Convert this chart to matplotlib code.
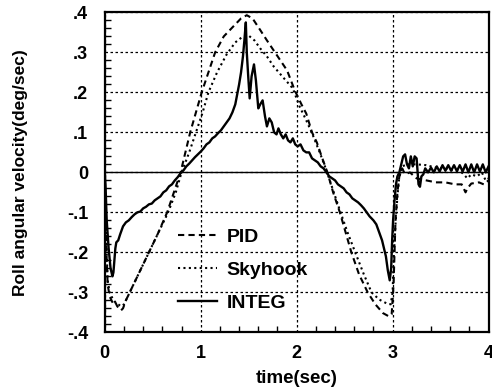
import matplotlib
matplotlib.use("Agg")
import matplotlib.pyplot as plt
from matplotlib.ticker import MultipleLocator
import numpy as np

plt.rcParams['font.family'] = ['Liberation Sans', 'DejaVu Sans']
plt.rcParams['font.weight'] = 'bold'

# ---- data ----
pid_t = [0, 0.01, 0.02, 0.03, 0.05, 0.07, 0.09, 0.11, 0.13, 0.15, 0.17, 0.19, 0.22, 0.26,
         0.36, 0.46, 0.55, 0.65, 0.72, 0.79, 0.84, 0.89, 0.95, 1.01, 1.08, 1.15, 1.24, 1.34,
         1.42, 1.48, 1.54, 1.62, 1.69, 1.76, 1.83, 1.90, 1.98, 2.05, 2.10, 2.16, 2.21, 2.26,
         2.32, 2.38, 2.45, 2.51, 2.57, 2.65, 2.74, 2.82, 2.90, 2.96, 2.99, 3.01, 3.02, 3.03,
         3.05, 3.07, 3.10, 3.13, 3.18, 3.25, 3.35, 3.45, 3.55, 3.65, 3.72, 3.76, 3.78, 3.82,
         3.90, 3.95, 4.0]
pid_v = [0, -0.12, -0.22, -0.28, -0.31, -0.32, -0.33, -0.325, -0.335, -0.34, -0.345, -0.34,
         -0.32, -0.30, -0.25, -0.20, -0.155, -0.10, -0.05, 0.0, 0.05, 0.10, 0.15, 0.20, 0.25,
         0.30, 0.34, 0.365, 0.385, 0.393, 0.385, 0.356, 0.33, 0.305, 0.28, 0.255, 0.205, 0.17,
         0.147, 0.10, 0.075, 0.04, 0.0, -0.05, -0.10, -0.15, -0.20, -0.255, -0.30, -0.33,
         -0.352, -0.36, -0.355, -0.28, -0.20, -0.12, -0.05, -0.01, 0.01, -0.005, 0.0, -0.015,
         -0.02, -0.025, -0.025, -0.03, -0.03, -0.05, -0.04, -0.028, -0.025, -0.03, -0.02]

sky_t = [0, 0.01, 0.02, 0.03, 0.05, 0.08, 0.11, 0.14, 0.17, 0.20, 0.26, 0.36, 0.46, 0.56,
         0.66, 0.74, 0.80, 0.88, 0.95, 1.02, 1.08, 1.17, 1.27, 1.36, 1.44, 1.50, 1.56, 1.62,
         1.69, 1.76, 1.85, 1.96, 2.03, 2.10, 2.16, 2.24, 2.31, 2.38, 2.45, 2.53, 2.61, 2.70,
         2.78, 2.86, 2.94, 2.98, 3.00, 3.01, 3.03, 3.05, 3.07, 3.10, 3.15, 3.25, 3.35, 3.45,
         3.55, 3.65, 3.72, 3.78, 3.82, 3.88, 3.93, 3.97, 4.0]
sky_v = [0, -0.10, -0.20, -0.27, -0.30, -0.315, -0.325, -0.33, -0.335, -0.33, -0.30, -0.25,
         -0.20, -0.15, -0.10, -0.05, 0.0, 0.05, 0.10, 0.15, 0.20, 0.25, 0.295, 0.325, 0.34,
         0.342, 0.33, 0.31, 0.29, 0.265, 0.24, 0.21, 0.165, 0.13, 0.098, 0.05, 0.005, -0.045,
         -0.095, -0.15, -0.20, -0.255, -0.30, -0.318, -0.328, -0.33, -0.30, -0.22, -0.13,
         -0.06, -0.01, 0.015, 0.02, 0.02, 0.018, 0.012, 0.01, 0.005, 0.0, -0.015, -0.005,
         -0.01, 0.0, -0.02, -0.015]

integ_t = [0, 0.01, 0.02, 0.04, 0.06, 0.08, 0.09, 0.10, 0.11, 0.12, 0.14, 0.16, 0.19, 0.22,
           0.25, 0.28, 0.31, 0.34, 0.37, 0.40, 0.43, 0.46, 0.49, 0.52, 0.55, 0.58, 0.61, 0.64,
           0.67, 0.70, 0.73, 0.76, 0.79, 0.82, 0.85, 0.88, 0.91, 0.94, 0.97, 1.00, 1.03, 1.06,
           1.09, 1.12, 1.15, 1.18, 1.21, 1.24, 1.27, 1.30, 1.33, 1.36, 1.38, 1.40, 1.42, 1.44,
           1.455, 1.47, 1.48, 1.495, 1.51, 1.53, 1.555, 1.575, 1.60, 1.62, 1.645, 1.67, 1.69,
           1.715, 1.74, 1.765, 1.79, 1.81, 1.835, 1.86, 1.885, 1.91, 1.935, 1.96, 1.985, 2.01,
           2.04, 2.07, 2.10, 2.13, 2.16, 2.19, 2.22, 2.25, 2.28, 2.31, 2.34, 2.37, 2.40, 2.43,
           2.46, 2.49, 2.52, 2.55, 2.58, 2.61, 2.64, 2.67, 2.70, 2.73, 2.76, 2.80, 2.83, 2.86,
           2.89, 2.91, 2.93, 2.95, 2.97, 2.985, 2.995, 3.005, 3.02, 3.035, 3.05, 3.07, 3.09,
           3.11, 3.13, 3.15, 3.17, 3.19, 3.21, 3.23, 3.25, 3.27, 3.285, 3.30, 3.32, 3.34, 3.37,
           3.40, 3.43, 3.46, 3.49, 3.52, 3.55, 3.58, 3.61, 3.64, 3.67, 3.70, 3.73, 3.76, 3.79,
           3.82, 3.85, 3.88, 3.91, 3.94, 3.97, 4.0]
integ_v = [0, -0.05, -0.12, -0.19, -0.24, -0.26, -0.25, -0.22, -0.19, -0.175, -0.17, -0.155,
           -0.135, -0.125, -0.12, -0.112, -0.105, -0.10, -0.098, -0.09, -0.086, -0.08, -0.078,
           -0.07, -0.065, -0.06, -0.05, -0.045, -0.035, -0.03, -0.02, -0.012, -0.002, 0.005,
           0.015, 0.022, 0.03, 0.038, 0.045, 0.052, 0.06, 0.07, 0.075, 0.085, 0.09, 0.098,
           0.105, 0.115, 0.125, 0.135, 0.15, 0.17, 0.195, 0.22, 0.25, 0.29, 0.33, 0.375, 0.30,
           0.24, 0.185, 0.24, 0.27, 0.23, 0.16, 0.17, 0.18, 0.14, 0.115, 0.135, 0.125, 0.10,
           0.095, 0.11, 0.095, 0.085, 0.095, 0.08, 0.075, 0.085, 0.07, 0.065, 0.07, 0.055,
           0.05, 0.05, 0.035, 0.03, 0.025, 0.015, 0.01, 0.0, -0.01, -0.015, -0.02, -0.03,
           -0.035, -0.04, -0.05, -0.055, -0.065, -0.07, -0.075, -0.082, -0.09, -0.10, -0.11,
           -0.12, -0.13, -0.15, -0.17, -0.19, -0.21, -0.245, -0.27, -0.24, -0.17, -0.12,
           -0.07, -0.03, -0.01, 0.0, 0.02, 0.04, 0.045, 0.02, 0.01, 0.04, 0.015, 0.04, 0.035,
           -0.03, -0.036, -0.01, -0.005, 0.01, 0.0, 0.012, 0.0, 0.015, 0.002, 0.018, 0.004,
           0.018, 0.004, 0.018, 0.003, 0.018, 0.002, 0.02, 0.0, 0.02, 0.0, 0.02, 0.002, 0.02,
           0.0, 0.015]

series_labels = ['PID', 'Skyhook', 'INTEG']
x_ticks = [0, 1, 2, 3, 4]
x_ticklabels = ['0', '1', '2', '3', '4']
y_ticks = [0.4, 0.3, 0.2, 0.1, 0.0, -0.1, -0.2, -0.3, -0.4]
y_ticklabels = ['.4', '.3', '.2', '.1', '0', '-.1', '-.2', '-.3', '-.4']

# ---- figure ----
fig = plt.figure(figsize=(4.92, 3.88), dpi=100)
ax = fig.add_axes([0.213, 0.1435, 0.780, 0.8245])

ax.plot(pid_t, pid_v, color='black', lw=1.5, linestyle=(0, (3.0, 2.0)), label=series_labels[0])
ax.plot(sky_t, sky_v, color='black', lw=1.5, linestyle=(0, (1.0, 1.6)), label=series_labels[1])
ax.plot(integ_t, integ_v, color='black', lw=1.7, linestyle='-', label=series_labels[2])

ax.axhline(0, color='black', lw=1.0, zorder=1)

ax.set_xlim(0, 4)
ax.set_ylim(-0.4, 0.4)
ax.set_xticks(x_ticks)
ax.set_xticklabels(x_ticklabels)
ax.set_yticks(y_ticks)
ax.set_yticklabels(y_ticklabels)
ax.xaxis.set_minor_locator(MultipleLocator(0.2))
ax.yaxis.set_minor_locator(MultipleLocator(0.02))

ax.grid(True, which='major', color='black', lw=0.9, linestyle=(0, (2, 2)))
ax.tick_params(which='both', direction='in', top=False, right=False)
ax.tick_params(which='major', length=0, labelsize=13)
ax.tick_params(axis='y', which='major', pad=12)
ax.tick_params(axis='x', which='major', pad=9)
ax.tick_params(which='minor', length=4, width=1.0)
for lab in ax.get_xticklabels() + ax.get_yticklabels():
    lab.set_fontweight('bold')
for sp in ax.spines.values():
    sp.set_linewidth(1.6)

ax.set_xlabel('time(sec)', fontsize=13.5, fontweight='bold', labelpad=6)
ax.set_ylabel('Roll angular velocity(deg/sec)', fontsize=12.5, fontweight='bold', labelpad=28)

ax.legend(loc='upper left', bbox_to_anchor=(0.19, 0.325), frameon=False,
          prop={'size': 14, 'weight': 'bold'}, handlelength=2.0, handletextpad=0.5,
          labelspacing=0.78, borderpad=0, borderaxespad=0)

fig.savefig('out.png', dpi=100)
